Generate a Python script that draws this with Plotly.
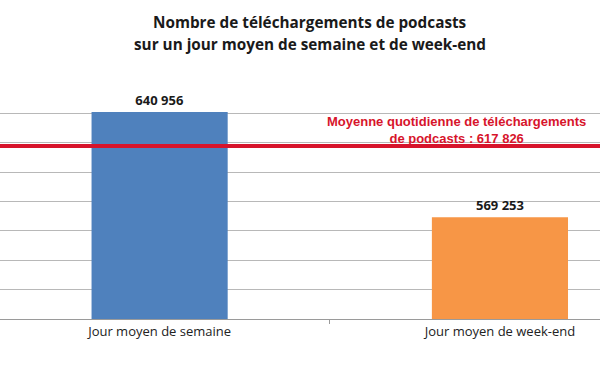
import plotly.graph_objects as go

categories = ["Jour moyen de semaine", "Jour moyen de week-end"]
values = [640956, 569253]
bar_colors = ["#4F81BD", "#F79646"]
average_value = 617826
average_label = "Moyenne quotidienne de téléchargements<br>de podcasts : 617 826"
title_line1 = "Nombre de téléchargements de podcasts"
title_line2 = "sur un jour moyen de semaine et de week-end"

fig = go.Figure()
fig.add_trace(go.Bar(
    x=categories,
    y=values,
    marker=dict(color=bar_colors, line=dict(width=0)),
    width=0.40,
    texttemplate="%{y:,.0f}",
    textposition="outside",
    textfont=dict(family="Open Sans", size=13, color="#1a1a1a", weight="bold"),
    cliponaxis=False,
    showlegend=False,
))

fig.add_shape(
    type="line", xref="paper", yref="y",
    x0=0, x1=1, y0=average_value, y1=average_value,
    line=dict(color="#D7142B", width=4),
    layer="above",
)

fig.add_annotation(
    xref="paper", yref="y",
    x=456 / 600, y=average_value,
    xanchor="center", yanchor="bottom", yshift=-2,
    text=average_label, showarrow=False, align="center",
    font=dict(family="Liberation Sans", size=13, color="#D7142B", weight="bold"),
)

fig.add_annotation(
    xref="paper", yref="paper",
    x=310 / 600, y=(319 - 22) / 235,
    xanchor="center", yanchor="middle",
    text=title_line1, showarrow=False,
    font=dict(family="Open Sans", size=15.3, color="#1a1a1a", weight="bold"),
)
fig.add_annotation(
    xref="paper", yref="paper",
    x=310 / 600, y=(319 - 44) / 235,
    xanchor="center", yanchor="middle",
    text=title_line2, showarrow=False,
    font=dict(family="Open Sans", size=15.3, color="#1a1a1a", weight="bold"),
)

fig.update_layout(
    width=600, height=372,
    margin=dict(l=0, r=0, t=84, b=53, pad=0),
    paper_bgcolor="white", plot_bgcolor="white",
    separators=", ",
    bargap=0.6,
    font=dict(family="Open Sans", size=13, color="#222222"),
)
fig.update_xaxes(
    type="category",
    range=[-0.469, 1.294],
    showgrid=False,
    showline=True, linecolor="#9a9a9a", linewidth=1,
    ticks="outside", tickson="boundaries", ticklen=4, tickcolor="#9a9a9a",
    tickfont=dict(family="Open Sans", size=13, color="#222222"),
    fixedrange=True,
)
fig.update_yaxes(
    range=[500000, 660000],
    dtick=20000, tick0=0,
    showgrid=True, gridcolor="#b8b8b8", gridwidth=1,
    showticklabels=False, zeroline=False, showline=False,
    fixedrange=True,
)

fig.write_html(
    "out.html",
    config={"displayModeBar": False},
    post_script="document.body.style.margin='0';document.body.style.overflow='hidden';",
)
